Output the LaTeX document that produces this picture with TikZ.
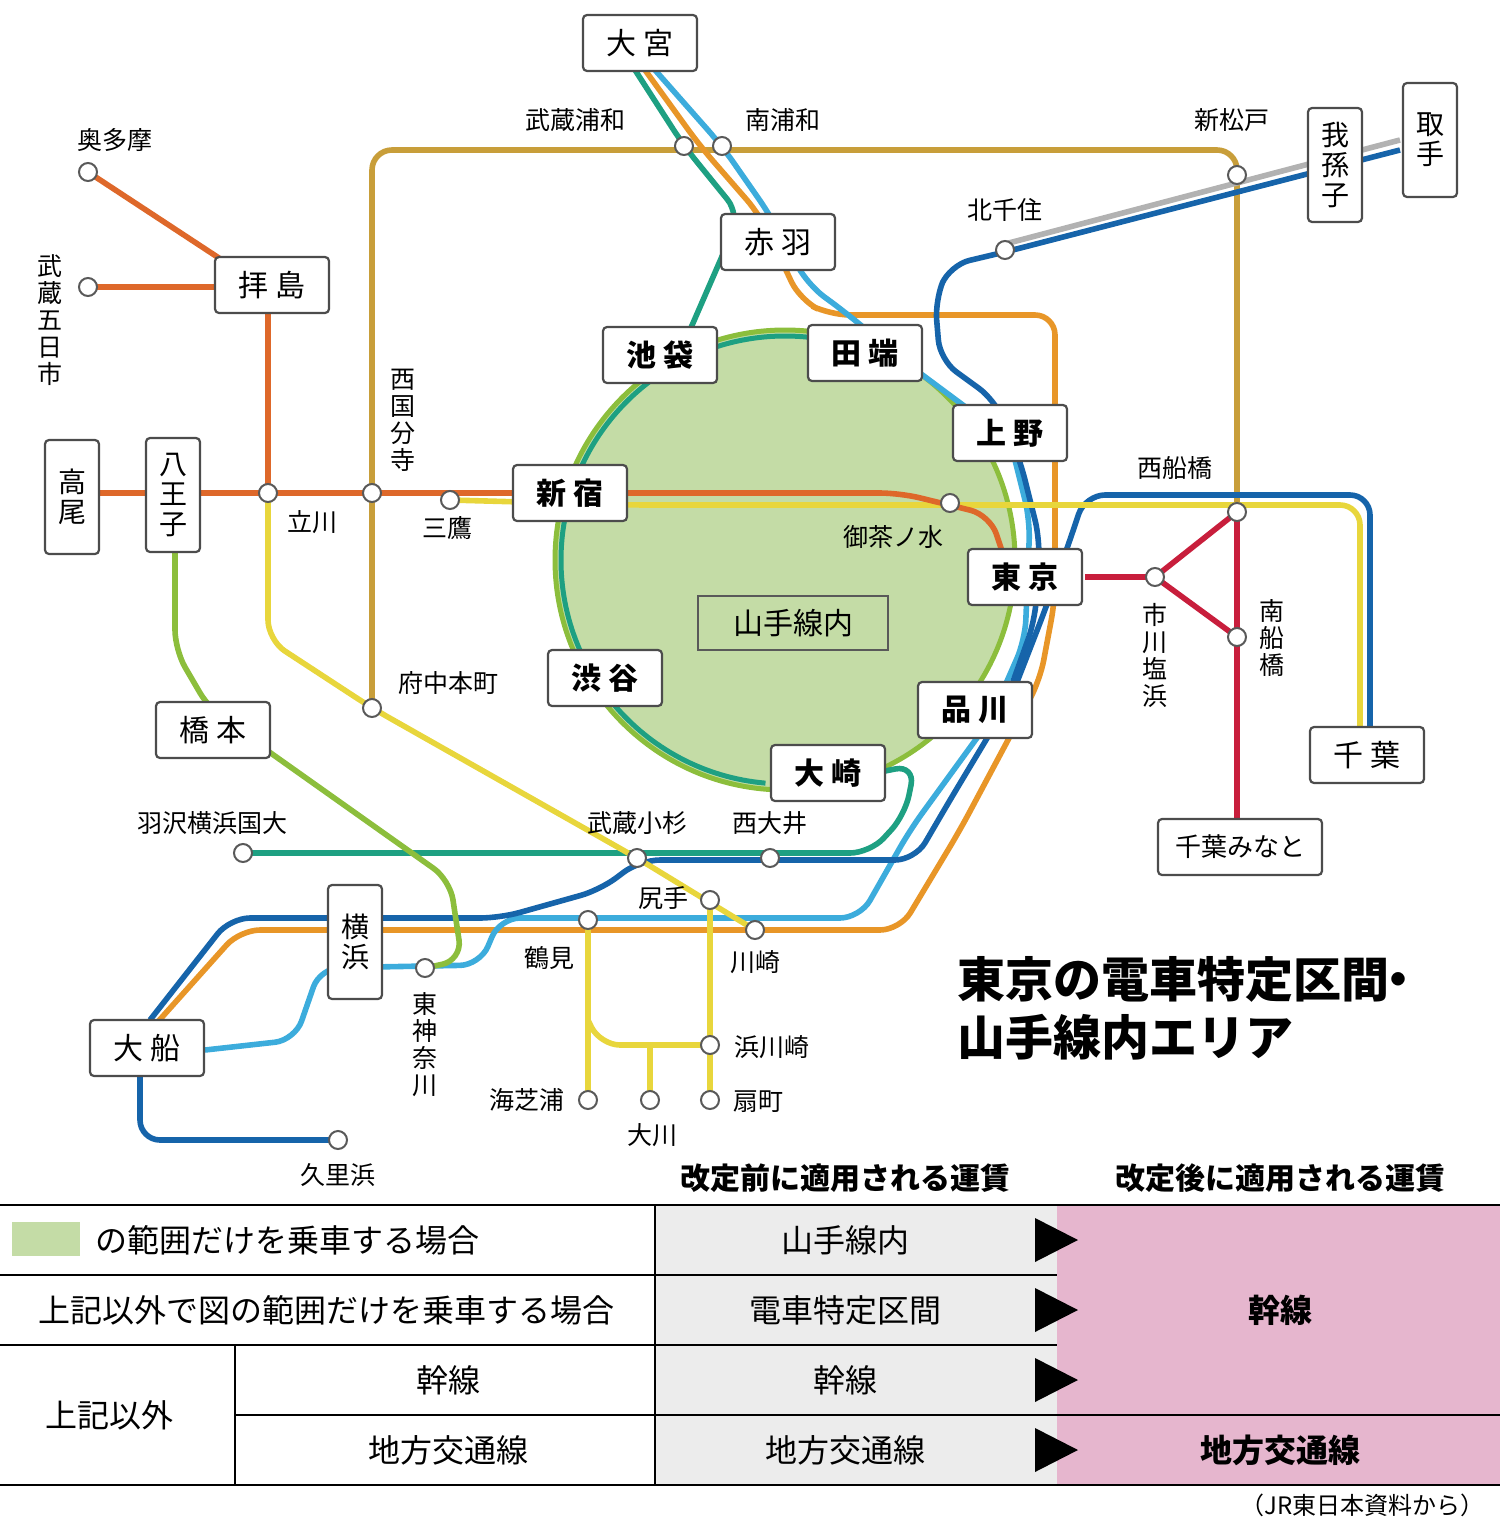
\documentclass[tikz,border=0pt]{standalone}
\usepackage{fontspec}
\setmainfont{Noto Sans CJK JP}
\usetikzlibrary{positioning}

\definecolor{chuo}{RGB}{222,104,42}
\definecolor{sobu}{RGB}{232,214,60}
\definecolor{musa}{RGB}{200,158,58}
\definecolor{saik}{RGB}{30,160,130}
\definecolor{keih}{RGB}{60,172,220}
\definecolor{yoko}{RGB}{22,100,170}
\definecolor{toka}{RGB}{232,150,40}
\definecolor{ygrn}{RGB}{140,190,60}
\definecolor{keiy}{RGB}{200,30,60}
\definecolor{ymfill}{RGB}{196,220,166}
\definecolor{cellgray}{RGB}{236,236,236}
\definecolor{cellpink}{RGB}{230,182,206}

\tikzset{
  rail/.style={line width=2.8pt, rounded corners=10pt},
  sta/.style={circle, draw=gray!70!black, fill=white, line width=1pt, minimum size=9pt, inner sep=0pt},
  big/.style={draw=gray!60!black, fill=white, rounded corners=2pt, line width=1.1pt,
    minimum width=57pt, minimum height=28pt, font=\bfseries\fontsize{15}{15}\selectfont},
  bigv/.style={big, minimum width=27pt, minimum height=57pt, align=center, font=\fontsize{14}{15}\selectfont},
  lab/.style={font=\fontsize{12.5}{13}\selectfont, inner sep=0pt},
  labv/.style={lab, align=center, font=\fontsize{12.5}{13.5}\selectfont},
  cell/.style={font=\fontsize{16}{16}\selectfont},
  tri/.style={fill=black},
}

\begin{document}
\begin{tikzpicture}[x=0.5pt, y=-0.5pt]
\useasboundingbox (0,0) rectangle (1500,1526);

% Yamanote area
\fill[ymfill] (785,560) circle[radius=230];
\draw[ygrn, line width=2.5pt] (785,560) circle[radius=230];
\draw[saik, line width=2.5pt] (785,560) ++(95:224) arc[start angle=95, end angle=285, radius=224];

% Musashino
\draw[rail, musa] (372,708) -- (372,150) -- (1237,150) -- (1237,512);
% Tokaido / Utsunomiya
\draw[rail, toka] (645,70) -- (700,146) -- (760,215) -- (800,300) -- (830,315) -- (1055,315)
  -- (1055,600) -- (1040,680) -- (960,830) -- (900,930) -- (240,930) -- (155,1025);
% Keihin-Tohoku
\draw[rail, keih] (655,70) -- (722,146) -- (770,215) -- (808,285) -- (845,312) -- (905,362)
  -- (1010,440) -- (1030,520) -- (1025,640) -- (990,720) -- (910,830) -- (860,918)
  -- (500,918) -- (480,965) -- (320,968) -- (295,1040) -- (205,1050);
% Saikyo
\draw[rail, saik] (635,70) -- (684,146) -- (740,215) -- (690,330);
\draw[rail, saik] (840,780) -- (915,765) -- (905,815) -- (870,853) -- (243,853);
% Yokosuka / Sobu rapid
\draw[rail, yoko] (1370,730) -- (1370,495) -- (1085,495) -- (1070,540) -- (1045,610)
  -- (1010,700) -- (950,800) -- (915,860) -- (640,860) -- (600,890) -- (500,918) -- (230,918) -- (150,1020);
\draw[rail, yoko] (140,1070) -- (140,1140) -- (338,1140);
% Joban
\draw[rail, gray!60] (1400,140) -- (1005,244);
\draw[rail, yoko] (1400,150) -- (1005,252) -- (950,265) -- (935,300) -- (940,360) -- (995,400)
  -- (1020,460) -- (1040,540) -- (1035,620) -- (1010,690);
% Chuo-Sobu local
\draw[rail, sobu] (1360,730) -- (1360,505) -- (630,505) -- (450,500);
% Nambu
\draw[rail, sobu] (268,493) -- (268,640) -- (372,708) -- (637,858) -- (755,930);
\draw[rail, sobu] (710,900) -- (710,1100);
% Tsurumi
\draw[rail, sobu] (588,920) -- (588,1100);
\draw[rail, sobu] (588,1020) -- (600,1045) -- (710,1045);
\draw[rail, sobu] (650,1045) -- (650,1100);
% Chuo rapid
\draw[rail, chuo] (88,172) -- (222,260);
\draw[rail, chuo] (88,287) -- (222,287);
\draw[rail, chuo] (268,290) -- (268,493);
\draw[rail, chuo] (100,493) -- (900,493) -- (990,515) -- (1005,560);
% Yokohama line
\draw[rail, ygrn] (175,540) -- (175,650) -- (210,710) -- (450,880) -- (462,960) -- (425,968);
% Keiyo
\draw[rail, keiy, rounded corners=0pt] (1085,577) -- (1155,577) -- (1237,512) -- (1237,820);
\draw[rail, keiy, rounded corners=0pt] (1155,577) -- (1237,637);

% stations
\node[sta] (okutama) at (88,172) {};
\node[sta] (itsuka) at (88,287) {};
\node[sta] (tachi) at (268,493) {};
\node[sta] (nishiko) at (372,493) {};
\node[sta] (mitaka) at (450,500) {};
\node[sta] (ochanomizu) at (950,503) {};
\node[sta] (musaura) at (684,146) {};
\node[sta] (minamiura) at (722,146) {};
\node[sta] (shinmatsu) at (1237,175) {};
\node[sta] (kitasen) at (1005,250) {};
\node[sta] (nishifuna) at (1237,512) {};
\node[sta] (ichikawa) at (1155,577) {};
\node[sta] (minamifuna) at (1237,637) {};
\node[sta] (fuchu) at (372,708) {};
\node[sta] (hazawa) at (243,853) {};
\node[sta] (kosugi) at (637,858) {};
\node[sta] (nishioi) at (770,858) {};
\node[sta] (shitte) at (710,900) {};
\node[sta] (tsurumi) at (588,920) {};
\node[sta] (kawasaki) at (755,930) {};
\node[sta] (higashik) at (425,968) {};
\node[sta] (hamakawa) at (710,1045) {};
\node[sta] (umishiba) at (588,1100) {};
\node[sta] (okawa) at (650,1100) {};
\node[sta] (ogimachi) at (710,1100) {};
\node[sta] (kurihama) at (338,1140) {};

% station labels
\node[lab] at (115,140) {奥多摩};
\node[labv] at (50,320) {武\\蔵\\五\\日\\市};
\node[lab] at (575,120) {武蔵浦和};
\node[lab] at (783,120) {南浦和};
\node[lab] at (1232,120) {新松戸};
\node[lab] at (1005,210) {北千住};
\node[labv] at (403,420) {西\\国\\分\\寺};
\node[lab] at (312,522) {立川};
\node[lab] at (447,528) {三鷹};
\node[lab] at (893,537) {御茶ノ水};
\node[lab] at (1175,468) {西船橋};
\node[labv] at (1155,655) {市\\川\\塩\\浜};
\node[labv] at (1272,638) {南\\船\\橋};
\node[lab] at (448,683) {府中本町};
\node[lab] at (212,823) {羽沢横浜国大};
\node[lab] at (637,823) {武蔵小杉};
\node[lab] at (770,823) {西大井};
\node[lab] at (663,898) {尻手};
\node[lab] at (549,958) {鶴見};
\node[lab] at (755,962) {川崎};
\node[labv] at (425,1045) {東\\神\\奈\\川};
\node[lab] at (772,1047) {浜川崎};
\node[lab] at (527,1100) {海芝浦};
\node[lab] at (758,1102) {扇町};
\node[lab] at (652,1135) {大川};
\node[lab] at (338,1175) {久里浜};

% boxed stations
\node[big, font=\fontsize{15}{15}\selectfont] (omiya) at (640,43) {大 宮};
\node[big, font=\fontsize{15}{15}\selectfont] (akabane) at (778,242) {赤 羽};
\node[big] (ikebukuro) at (660,355) {池 袋};
\node[big] (tabata) at (865,353) {田 端};
\node[big] (ueno) at (1010,433) {上 野};
\node[big] (shinjuku) at (570,493) {新 宿};
\node[big] (tokyo) at (1025,577) {東 京};
\node[big] (shibuya) at (605,678) {渋 谷};
\node[big] (shinagawa) at (975,710) {品 川};
\node[big] (osaki) at (828,773) {大 崎};
\node[big, font=\fontsize{15}{15}\selectfont] (haijima) at (272,285) {拝 島};
\node[bigv] (takao) at (72,497) {高\\尾};
\node[bigv] (hachioji) at (173,495) {八\\王\\子};
\node[big, font=\fontsize{15}{15}\selectfont] (hashimoto) at (213,730) {橋 本};
\node[bigv] (yokohama) at (355,942) {横\\浜};
\node[big, font=\fontsize{15}{15}\selectfont] (ofuna) at (147,1048) {大 船};
\node[big, font=\fontsize{15}{15}\selectfont] (chiba) at (1367,755) {千 葉};
\node[big, font=\fontsize{13}{13}\selectfont, minimum width=82pt] (chibaminato) at (1240,847) {千葉みなと};
\node[bigv] (abiko) at (1335,165) {我\\孫\\子};
\node[bigv] (toride) at (1430,140) {取\\手};
\node[draw=gray!70!black, line width=1.1pt, minimum width=95pt, minimum height=27pt,
  font=\fontsize{15}{15}\selectfont] (yamanote) at (793,623) {山手線内};

% title
\node[anchor=west, align=left, font=\bfseries\fontsize{24}{29}\selectfont] (title) at (950,1008)
  {東京の電車特定区間\kern-0.3em・\\山手線内エリア};

% table
\node[font=\bfseries\fontsize{15}{15}\selectfont] at (845,1178) {改定前に適用される運賃};
\node[font=\bfseries\fontsize{15}{15}\selectfont] at (1280,1178) {改定後に適用される運賃};
\fill[cellgray] (655,1205) rectangle (1057,1485);
\fill[cellpink] (1057,1205) rectangle (1500,1485);
\draw[line width=1.2pt] (0,1205) -- (1500,1205);
\draw[line width=1.2pt] (0,1485) -- (1500,1485);
\draw[line width=0.8pt] (0,1275) -- (1057,1275) (0,1345) -- (1057,1345) (235,1415) -- (1500,1415);
\draw[line width=0.8pt] (655,1205) -- (655,1485) (235,1345) -- (235,1485);
\foreach \y in {1240,1310,1380,1450}
  \fill[tri] (1035,\y-22) -- (1078,\y) -- (1035,\y+22) -- cycle;
\fill[ymfill] (12,1222) rectangle (80,1256);
\node[cell, anchor=west] at (88,1240) {の範囲だけを乗車する場合};
\node[cell] at (327,1310) {上記以外で図の範囲だけを乗車する場合};
\node[cell] at (110,1415) {上記以外};
\node[cell] at (448,1380) {幹線};
\node[cell] at (448,1450) {地方交通線};
\node[cell] at (845,1240) {山手線内};
\node[cell] at (845,1310) {電車特定区間};
\node[cell] at (845,1380) {幹線};
\node[cell] at (845,1450) {地方交通線};
\node[cell, font=\bfseries\fontsize{16}{16}\selectfont] at (1280,1310) {幹線};
\node[cell, font=\bfseries\fontsize{16}{16}\selectfont] at (1280,1450) {地方交通線};
\node[anchor=east, font=\fontsize{12}{12}\selectfont] at (1492,1505) {（JR東日本資料から）};
\end{tikzpicture}
\end{document}
